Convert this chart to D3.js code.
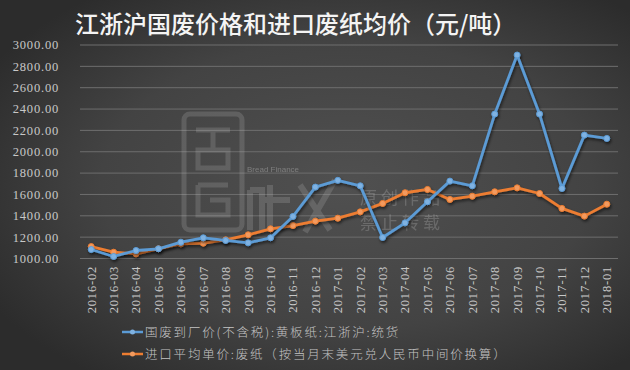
<!DOCTYPE html>
<html><head><meta charset="utf-8">
<script src="https://cdn.jsdelivr.net/npm/d3@7/dist/d3.min.js"></script>
<style>html,body{margin:0;padding:0;background:#3a3a3a;}svg{display:block;}</style>
</head><body>
<svg id="chart" width="630" height="370"></svg>
<script>
const months = ["2016-02","2016-03","2016-04","2016-05","2016-06","2016-07","2016-08","2016-09","2016-10","2016-11","2016-12","2017-01","2017-02","2017-03","2017-04","2017-05","2017-06","2017-07","2017-08","2017-09","2017-10","2017-11","2017-12","2018-01"];
const domesticPrice = [1084,1019,1075,1091,1153,1194,1169,1147,1194,1394,1669,1732,1681,1197,1334,1531,1725,1681,2353,2906,2353,1656,2156,2125];
const importPrice = [1112,1059,1044,1091,1137,1144,1175,1222,1278,1309,1350,1378,1437,1516,1616,1647,1553,1584,1625,1662,1609,1469,1397,1509];
const yTicks = [1000,1200,1400,1600,1800,2000,2200,2400,2600,2800,3000];
const seriesNames = ["国废到厂价(不含税):黄板纸:江浙沪:统货","进口平均单价:废纸（按当月末美元兑人民币中间价换算）"];
const titleText = "江浙沪国废价格和进口废纸均价（元/吨）";

const svg = d3.select("#chart");
const W = 630, H = 370;
const defs = svg.append("defs");
const rg = defs.append("radialGradient").attr("id","bg").attr("cx","55%").attr("cy","50%").attr("r","65%");
rg.append("stop").attr("offset","0%").attr("stop-color","#505050");
rg.append("stop").attr("offset","60%").attr("stop-color","#434343");
rg.append("stop").attr("offset","100%").attr("stop-color","#2c2c2c");
const f = defs.append("filter").attr("id","sh").attr("x","-10%").attr("y","-10%").attr("width","120%").attr("height","130%");
f.append("feDropShadow").attr("dx",1).attr("dy",2).attr("stdDeviation",1.5).attr("flood-color","#000").attr("flood-opacity",0.6);

svg.append("rect").attr("width",W).attr("height",H).attr("fill","url(#bg)");

const x = d3.scaleBand().domain(months).range([80, 618]);
const y = d3.scaleLinear().domain([1000, 3000]).range([258.5, 45]);

// gridlines
svg.append("g").selectAll("line").data(yTicks).join("line")
  .attr("x1",80).attr("x2",618).attr("y1",d=>y(d)).attr("y2",d=>y(d))
  .attr("stroke","#6e6e6e").attr("stroke-width",1);

// watermark
const wm = svg.append("g").attr("opacity",0.18).attr("fill","none").attr("stroke","#d0d0d0");
wm.append("rect").attr("x",184).attr("y",114).attr("width",58).attr("height",116).attr("rx",6).attr("stroke-width",5);
wm.append("path").attr("d","M196 130 H230 M213 130 V150 M198 150 H228 V168 H198 Z M198 185 H228 M198 185 V215 H228 V200 H210").attr("stroke-width",5);
wm.append("path").attr("d","M250 190 V230 M250 190 H262 V230 M270 185 V232 M265 200 H290 M300 185 L330 230 M335 180 L305 232").attr("stroke-width",6);
svg.append("text").attr("x",247).attr("y",172).text("Bread Finance")
  .attr("font-family","Liberation Sans, sans-serif").attr("font-size",8).attr("fill","#d8d8d8").attr("opacity",0.35);
svg.append("text").attr("x",360).attr("y",204).text("原创作品")
  .attr("font-family","Noto Sans CJK SC").attr("font-size",17).attr("letter-spacing",4).attr("fill","#d8d8d8").attr("opacity",0.22);
svg.append("text").attr("x",360).attr("y",229).text("禁止转载")
  .attr("font-family","Noto Sans CJK SC").attr("font-size",17).attr("letter-spacing",4).attr("fill","#d8d8d8").attr("opacity",0.22);

// title
svg.append("text").attr("x",75).attr("y",33).text(titleText)
  .attr("font-family","Noto Sans CJK SC").attr("font-weight",500).attr("font-size",24)
  .attr("fill","#f4f4f4");

// y axis labels
svg.append("g").selectAll("text").data(yTicks).join("text")
  .attr("x",59).attr("y",d=>y(d)).attr("dy","0.35em").attr("text-anchor","end")
  .attr("font-family","Liberation Serif, serif").attr("font-size",12.5).attr("letter-spacing",0.8)
  .attr("fill","#c8c8c8").text(d=>d3.format(".2f")(d));

// x labels
svg.append("g").selectAll("text").data(months).join("text")
  .attr("transform",d=>`translate(${x(d)+x.bandwidth()/2},266) rotate(-90)`)
  .attr("text-anchor","end").attr("dy","0.35em")
  .attr("font-family","Liberation Serif, serif").attr("font-size",12.5).attr("letter-spacing",0.8)
  .attr("fill","#c8c8c8").text(d=>d);

const series = [
  {name: seriesNames[0], values: domesticPrice, color: "#5b9bd5", marker: "#7fb2e2"},
  {name: seriesNames[1], values: importPrice, color: "#ed7d31", marker: "#f29a5e"}
];
const line = d3.line().x((d,i)=>x(months[i])+x.bandwidth()/2).y(d=>y(d));

[series[1], series[0]].forEach(s=>{
  const g = svg.append("g").attr("filter","url(#sh)");
  g.append("path").datum(s.values).attr("d",line).attr("fill","none")
    .attr("stroke",s.color).attr("stroke-width",2.8).attr("stroke-linejoin","round");
  g.selectAll("circle").data(s.values).join("circle")
    .attr("cx",(d,i)=>x(months[i])+x.bandwidth()/2).attr("cy",d=>y(d)).attr("r",3)
    .attr("fill",s.marker).attr("stroke",s.color).attr("stroke-width",1);
});

// legend
series.forEach((s,i)=>{
  const ly = 332 + i*22;
  const g = svg.append("g");
  g.append("line").attr("x1",122).attr("x2",143).attr("y1",ly).attr("y2",ly)
    .attr("stroke",s.color).attr("stroke-width",2.5);
  g.append("circle").attr("cx",132.5).attr("cy",ly).attr("r",2.5).attr("fill",s.marker);
  g.append("text").attr("x",145).attr("y",ly).attr("dy","0.36em")
    .attr("font-family","Noto Sans CJK SC").attr("font-weight",300).attr("font-size",12.5)
    .attr("letter-spacing",1.8).attr("fill","#c4c4c4").text(s.name);
});
</script>
</body></html>
